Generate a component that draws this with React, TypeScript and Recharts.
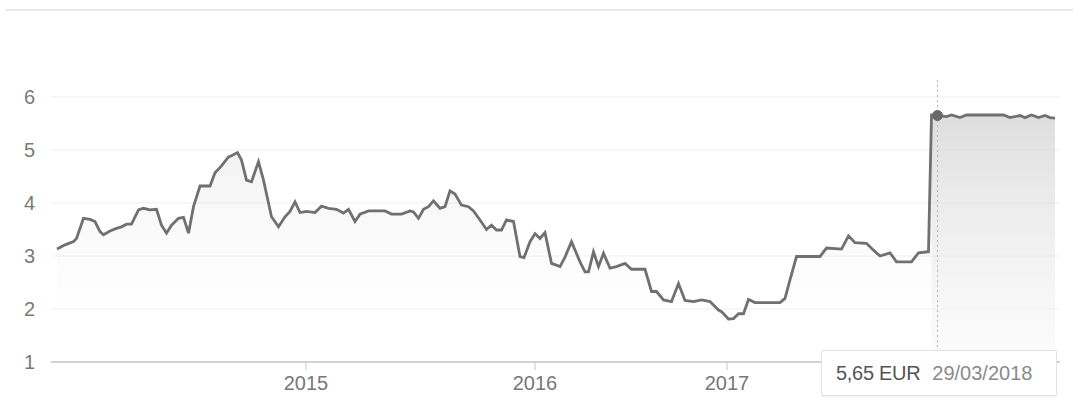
import React from "react";
import { AreaChart, Area, XAxis, YAxis, CartesianGrid, Tooltip } from "recharts";

// trading-week index along the x axis (axis is per session, not calendar time)
const weeks = [
  0, 1.6, 3.3, 3.9, 5.3, 6.6, 7.6, 8.6, 9.3, 10.6, 11.9, 12.9, 13.9, 14.9, 16.3, 17.3, 18.6, 19.9, 20.9, 21.9,
  22.9, 24.3, 25.3, 26.3, 27.3, 28.6, 30.6, 31.6, 32.9, 34.3, 34.9, 36.1, 36.9, 37.9, 38.9, 40.3, 41.3, 42.9, 44.3, 45.6,
  46.6, 47.6, 48.6, 49.9, 51.6, 52.9, 54.3, 55.9, 57.3, 58.3, 59.6, 60.6, 62.3, 63.9, 65.6, 66.9, 68.9, 70.6, 71.3, 72.3,
  73.3, 74.3, 75.3, 76.6, 77.6, 78.6, 79.6, 80.9, 82.3, 83.3, 84.6, 85.9, 86.9, 87.9, 88.9, 89.9, 91.3, 92.6, 93.4, 94.6,
  95.6, 96.6, 97.6, 98.9, 100.6, 101.6, 102.9, 104.6, 105.6, 106.3, 107.3, 108.3, 109.3, 110.6, 111.9, 113.6, 114.9, 117.6, 118.9, 119.9,
  121.3, 122.9, 124.3, 125.6, 127.3, 128.9, 130.6, 132.3, 132.9, 134.3, 135.3, 136.3, 137.3, 138.3, 139.6, 144.6, 145.6, 146.6, 147.9, 152.6,
  153.9, 156.9, 158.3, 159.6, 161.9, 163.3, 164.6, 166.6, 167.9, 170.9, 172.3, 174.3, 174.9, 176.1, 177.9, 178.9, 180.6, 181.9, 189.3, 190.6,
  192.6, 193.6, 194.9, 196.3, 197.6, 198.6, 199.6,
];

// closing price, EUR
const prices = [
  3.13, 3.21, 3.27, 3.33, 3.71, 3.69, 3.65, 3.46, 3.4, 3.47, 3.52, 3.55, 3.6, 3.6, 3.87, 3.9, 3.87, 3.88, 3.58, 3.43,
  3.58, 3.71, 3.73, 3.43, 3.93, 4.32, 4.32, 4.57, 4.7, 4.87, 4.89, 4.95, 4.81, 4.43, 4.4, 4.78, 4.43, 3.74, 3.55, 3.74,
  3.84, 4.02, 3.82, 3.84, 3.82, 3.94, 3.9, 3.88, 3.81, 3.88, 3.65, 3.79, 3.85, 3.85, 3.85, 3.79, 3.79, 3.85, 3.83, 3.71,
  3.88, 3.93, 4.04, 3.9, 3.93, 4.23, 4.17, 3.96, 3.93, 3.85, 3.68, 3.5, 3.58, 3.49, 3.49, 3.68, 3.65, 2.99, 2.97, 3.27,
  3.42, 3.33, 3.44, 2.86, 2.8, 2.98, 3.27, 2.89, 2.7, 2.7, 3.08, 2.8, 3.05, 2.77, 2.8, 2.86, 2.75, 2.75, 2.33, 2.33,
  2.17, 2.14, 2.48, 2.16, 2.14, 2.17, 2.14, 1.98, 1.95, 1.81, 1.82, 1.91, 1.91, 2.18, 2.12, 2.12, 2.2, 2.55, 2.99, 2.99,
  3.15, 3.13, 3.38, 3.25, 3.24, 3.11, 3.0, 3.06, 2.89, 2.89, 3.06, 3.08, 5.66, 5.65, 5.63, 5.66, 5.61, 5.66, 5.66, 5.61,
  5.65, 5.61, 5.66, 5.61, 5.65, 5.61, 5.6,
];

const yearTicks = [49.8, 95.6, 134.0];
const yearLabels = ["2015", "2016", "2017"];
const priceTicks = [1, 2, 3, 4, 5, 6];

// hovered point shown in the tooltip
const markerWeek = 176.1;
const markerDate = "29/03/2018";
const zoneStart = 174.9; // darker shading after the jump

const data = weeks.map((w, i) => ({
  week: w,
  price: prices[i],
  zone: w >= zoneStart ? prices[i] : null,
}));
const markerIndex = weeks.indexOf(markerWeek);

const font = '"Liberation Sans", Arial, sans-serif';

function PriceTip({ active, payload }: any) {
  if (!active || !payload || !payload.length) return null;
  const p = payload.find((x: any) => x.dataKey === "price") ?? payload[0];
  const txt = Number(p.value).toFixed(2).replace(".", ",") + " EUR";
  return (
    <div
      style={{
        width: 236,
        height: 46,
        boxSizing: "border-box",
        background: "#fff",
        border: "1px solid #e3e3e3",
        borderRadius: 2,
        boxShadow: "0 1px 2px rgba(0,0,0,0.06)",
        display: "flex",
        alignItems: "center",
        paddingLeft: 14,
        fontFamily: font,
        fontSize: 20,
        whiteSpace: "nowrap",
      }}
    >
      <span style={{ color: "#555", letterSpacing: -0.3 }}>{txt}</span>
      <span style={{ color: "#8a8a8a", marginLeft: 12 }}>{markerDate}</span>
    </div>
  );
}

export default function App() {
  return (
    <div style={{ position: "absolute", left: 0, top: 0, width: 1073, height: 398, background: "#fff", fontFamily: font }}>
      <div style={{ position: "absolute", left: 6, top: 9, width: 1067, height: 2, background: "#e8e8e8" }} />
      <AreaChart width={1073} height={398} data={data} margin={{ top: 80, right: 13, bottom: 0, left: 0 }}>
        <defs>
          <linearGradient id="fillMain" x1="0" y1="0" x2="0" y2="1">
            <stop offset="0%" stopColor="#c4c4c4" stopOpacity={0.5} />
            <stop offset="100%" stopColor="#ffffff" stopOpacity={0} />
          </linearGradient>
          <linearGradient id="fillZone" x1="0" y1="0" x2="0" y2="1">
            <stop offset="0%" stopColor="#dadada" stopOpacity={1} />
            <stop offset="100%" stopColor="#fafafa" stopOpacity={1} />
          </linearGradient>
        </defs>
        <CartesianGrid horizontal vertical={false} stroke="#efefef" horizontalValues={priceTicks} />
        <XAxis
          type="number"
          dataKey="week"
          domain={[-1.2, 200.6]}
          ticks={yearTicks}
          interval={0}
          tickFormatter={(v) => yearLabels[yearTicks.indexOf(v)]}
          axisLine={{ stroke: "#d2d2d2", strokeWidth: 2 }}
          tickLine={{ stroke: "#c8c8c8" }}
          tickSize={8}
          tickMargin={6}
          tick={{ fill: "#777", fontSize: 20 }}
          height={36}
        />
        <YAxis
          type="number"
          domain={[1, 6.32]}
          ticks={priceTicks}
          interval={0}
          axisLine={false}
          tickLine={false}
          tickMargin={10}
          tick={{ fill: "#7a7a7a", fontSize: 20 }}
          width={51}
        />
        <Tooltip
          active
          defaultIndex={markerIndex}
          position={{ x: 821, y: 350 }}
          content={<PriceTip />}
          cursor={{ stroke: "#b5b5b5", strokeWidth: 1, strokeDasharray: "2 3" }}
          wrapperStyle={{ outline: "none" }}
          isAnimationActive={false}
        />
        <Area
          type="linear"
          dataKey="zone"
          stroke="none"
          fill="url(#fillZone)"
          dot={false}
          activeDot={false}
          isAnimationActive={false}
        />
        <Area
          type="linear"
          dataKey="price"
          stroke="#707070"
          strokeWidth={2.8}
          fill="url(#fillMain)"
          dot={false}
          activeDot={{ r: 5, fill: "#6a6a6a", stroke: "#6a6a6a", strokeWidth: 1 }}
          isAnimationActive={false}
        />
      </AreaChart>
    </div>
  );
}
